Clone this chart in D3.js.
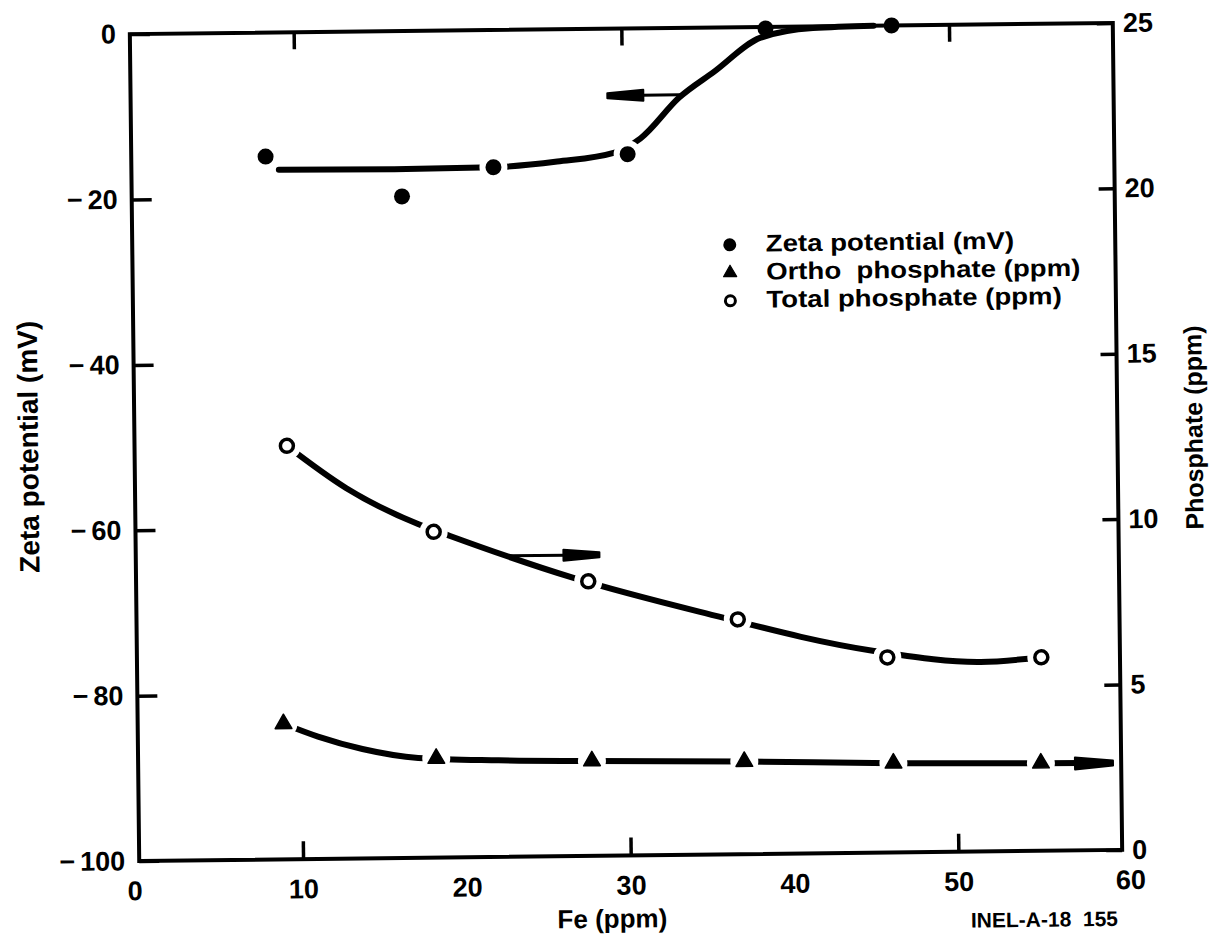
<!DOCTYPE html>
<html>
<head>
<meta charset="utf-8">
<script src="https://cdn.jsdelivr.net/npm/d3@7"></script>
<style>
  html, body { margin: 0; padding: 0; background: #fff; }
  svg { display: block; }
  text { font-family: "Liberation Sans", Arial, Helvetica, sans-serif; font-weight: bold; fill: #000; }
</style>
</head>
<body>
<svg id="chart" width="1215" height="941"></svg>
<script>
// ---- measured values ----
// Zeta potential (left axis, mV)
const zetaFe = [8.2, 16.5, 22.1, 30.3, 38.8, 46.5];
const zetaMv = [-15.0, -20.0, -16.6, -15.2, -0.2, 0.0];
// Ortho phosphate (right axis, ppm)
const orthoFe = [8.9, 18.2, 27.7, 37.0, 46.1, 55.1];
const orthoPpm = [4.1, 3.0, 2.87, 2.8, 2.7, 2.65];
// Total phosphate (right axis, ppm)
const totalFe = [9.3, 18.2, 27.6, 36.7, 45.8, 55.2];
const totalPpm = [12.5, 9.85, 8.3, 7.1, 5.9, 5.85];

// hand-fitted trend curves
const zetaFitFe = [9.0, 16.0, 22.1, 26.0, 29.5, 31.1, 33.5, 35.6, 38.5, 41.7, 45.4];
const zetaFitMv = [-16.6, -16.7, -16.6, -16.0, -15.0, -13.3, -8.4, -5.4, -1.3, -0.2, 0.0];
const totalFitFe = [9.3, 12.9, 17.25, 19.2, 26.7, 34.4, 45.0, 51.5, 55.2];
const totalFitPpm = [12.5, 11.2, 10.09, 9.72, 8.41, 7.34, 6.1, 5.73, 5.85];
const orthoFitFe = [8.9, 11.0, 13.7, 17.1, 22.0, 27.7, 37.0, 46.1, 55.1, 57.6];
const orthoFitPpm = [4.1, 3.7, 3.31, 3.02, 2.92, 2.87, 2.8, 2.7, 2.65, 2.64];

// arrows telling which axis each curve belongs to: [fromFe, toFe, level]
const zetaArrow = [33.5, 29.1, -8.1];
const totalArrow = [22.8, 28.3, 9.1];
const orthoArrow = [57.6, 59.5, 2.63];

// axes
const xTicks = [0, 10, 20, 30, 40, 50, 60];
const xTickLabels = ["0", "10", "20", "30", "40", "50", "60"];
const xMarks = [10, 30, 50];
const leftTicks = [-100, -80, -60, -40, -20, 0];
const leftTickLabels = ["\u2212100", "\u221280", "\u221260", "\u221240", "\u221220", "0"];
const rightTicks = [0, 5, 10, 15, 20, 25];
const rightTickLabels = ["0", "5", "10", "15", "20", "25"];

const legendLabels = ["Zeta potential (mV)", "Ortho  phosphate (ppm)", "Total phosphate (ppm)"];

// ---- layout ----
const L = 134.5, R = 1117.5, T = 28.5, B = 855.5;
const svg = d3.select("#chart");
svg.append("rect").attr("width", 1215).attr("height", 941).attr("fill", "#fff");

// the whole sheet sits very slightly tilted
const g = svg.append("g").attr("transform", "rotate(-0.65,626,442)");

const x = d3.scaleLinear().domain([0, 60]).range([L, R]);
const yL = d3.scaleLinear().domain([-100, 0]).range([B, T]);
const yR = d3.scaleLinear().domain([0, 25]).range([B, T]);

const FS = 27;

function styleAxis(sel) {
  sel.select(".domain").remove();
  sel.selectAll(".tick line").attr("stroke", "#000").attr("stroke-width", 3.5);
  sel.selectAll(".tick text")
    .attr("font-size", FS)
    .attr("font-family", "'Liberation Sans', Arial, sans-serif")
    .attr("font-weight", "bold");
  sel.attr("font-family", null).attr("font-size", null);
}

// bottom: labels at every 10, tick marks at 10/30/50
const axB = g.append("g").attr("transform", `translate(0,${B})`)
  .call(d3.axisBottom(x).tickValues(xTicks)
    .tickFormat((d, i) => xTickLabels[i])
    .tickSize(0).tickPadding(20));
styleAxis(axB);
axB.selectAll(".tick text").attr("dx", d => d === 0 ? -5 : d === 60 ? 8 : 0);
const axBm = g.append("g").attr("transform", `translate(0,${B})`)
  .call(d3.axisBottom(x).tickValues(xMarks).tickFormat("").tickSizeInner(-18).tickSizeOuter(0));
styleAxis(axBm);

// top (marks only)
const axT = g.append("g").attr("transform", `translate(0,${T})`)
  .call(d3.axisTop(x).tickValues(xMarks).tickFormat("")
    .tickSizeInner(-17).tickSizeOuter(0));
styleAxis(axT);

// left
const axL = g.append("g").attr("transform", `translate(${L},0)`)
  .call(d3.axisLeft(yL).tickValues(leftTicks)
    .tickFormat((d, i) => leftTickLabels[i])
    .tickSizeInner(-20).tickSizeOuter(0).tickPadding(14));
styleAxis(axL);
axL.selectAll(".tick text").each(function (d, i) {
  const s = leftTickLabels[i];
  if (s.startsWith("\u2212")) {
    const t = d3.select(this).text(null);
    t.append("tspan").text("\u2212");
    t.append("tspan").attr("dx", 5).text(s.slice(1));
  }
});

// right
const axR = g.append("g").attr("transform", `translate(${R},0)`)
  .call(d3.axisRight(yR).tickValues(rightTicks)
    .tickFormat((d, i) => rightTickLabels[i])
    .tickSizeInner(-16).tickSizeOuter(0).tickPadding(10));
styleAxis(axR);

// frame
g.append("rect").attr("x", L).attr("y", T).attr("width", R - L).attr("height", B - T)
  .attr("fill", "none").attr("stroke", "#000").attr("stroke-width", 4);

// axis titles
g.append("text").attr("transform", `translate(${L - 106},${(T + B) / 2 - 2}) rotate(-90)`)
  .attr("text-anchor", "middle").attr("dominant-baseline", "central")
  .attr("font-size", 28).text("Zeta potential (mV)");
g.append("text").attr("transform", `translate(${R + 76},${(T + B) / 2 - 8}) rotate(-90)`)
  .attr("text-anchor", "middle").attr("dominant-baseline", "central")
  .attr("font-size", 25).text("Phosphate (ppm)");
g.append("text").attr("x", (L + R) / 2 - 19).attr("y", B + 72)
  .attr("text-anchor", "middle").attr("font-size", 26).text("Fe (ppm)");
g.append("text").attr("x", R - 5).attr("y", B + 76)
  .attr("text-anchor", "end").attr("font-size", 21)
  .style("white-space", "pre").text("INEL-A-18  155");

// ---- curves, broken around their markers ----
const defs = svg.append("defs");
const GAP = 14;
function gapMask(id, pts) {
  const m = defs.append("mask").attr("id", id)
    .attr("maskUnits", "userSpaceOnUse")
    .attr("x", -100).attr("y", -100).attr("width", 1500).attr("height", 1200);
  m.append("rect").attr("x", -100).attr("y", -100).attr("width", 1500).attr("height", 1200).attr("fill", "#fff");
  m.selectAll("circle").data(pts).join("circle")
    .attr("cx", d => d[0]).attr("cy", d => d[1]).attr("r", GAP).attr("fill", "#000");
  return `url(#${id})`;
}

const zetaPts = zetaFe.map((f, i) => [f, zetaMv[i]]);
const orthoPts = orthoFe.map((f, i) => [f, orthoPpm[i]]);
const totalPts = totalFe.map((f, i) => [f, totalPpm[i]]);

const lineL = d3.line().x(d => x(d[0])).y(d => yL(d[1])).curve(d3.curveMonotoneX);
const lineR = d3.line().x(d => x(d[0])).y(d => yR(d[1])).curve(d3.curveMonotoneX);

// the zeta curve runs beneath the 38.8 ppm point without a break
const zetaGapPts = zetaPts.filter((d, i) => i !== 4).map(d => [x(d[0]), yL(d[1])]);
g.append("path")
  .attr("d", lineL(zetaFitFe.map((f, i) => [f, zetaFitMv[i]])))
  .attr("fill", "none").attr("stroke", "#000").attr("stroke-width", 6).attr("stroke-linecap", "round")
  .attr("mask", gapMask("gapZeta", zetaGapPts));

g.append("path")
  .attr("d", lineR(totalFitFe.map((f, i) => [f, totalFitPpm[i]])))
  .attr("fill", "none").attr("stroke", "#000").attr("stroke-width", 6).attr("stroke-linecap", "round")
  .attr("mask", gapMask("gapTotal", totalPts.map(d => [x(d[0]), yR(d[1])])));

g.append("path")
  .attr("d", lineR(orthoFitFe.map((f, i) => [f, orthoFitPpm[i]])))
  .attr("fill", "none").attr("stroke", "#000").attr("stroke-width", 6).attr("stroke-linecap", "round")
  .attr("mask", gapMask("gapOrtho", orthoPts.map(d => [x(d[0]), yR(d[1])])));

// ---- arrows ----
function arrowHead(x0, x1, y, len, wBase, wTip) {
  const dir = Math.sign(x1 - x0);
  const bx = x1 - dir * len;
  return `M${bx},${y - wBase}L${x1},${y - wTip}L${x1},${y + wTip}L${bx},${y + wBase}Z`;
}
function drawArrow(a, yScale, shaftW, len, wBase) {
  const x0 = x(a[0]), x1 = x(a[1]), y = yScale(a[2]);
  const dir = Math.sign(x1 - x0);
  g.append("line").attr("x1", x0).attr("y1", y).attr("x2", x1 - dir * (len - 2)).attr("y2", y)
    .attr("stroke", "#000").attr("stroke-width", shaftW).attr("stroke-linecap", "round");
  g.append("path").attr("d", arrowHead(x0, x1, y, len, wBase, 2.5))
    .attr("fill", "#000").attr("stroke", "#000").attr("stroke-width", 2).attr("stroke-linejoin", "round");
}
drawArrow(zetaArrow, yL, 3, 36, 5.5);
drawArrow(totalArrow, yR, 3, 36, 5.5);
drawArrow(orthoArrow, yR, 6, 38, 6);

// ---- markers ----
g.selectAll("circle.zeta").data(zetaPts).join("circle").attr("class", "zeta")
  .attr("cx", d => x(d[0])).attr("cy", d => yL(d[1])).attr("r", 8).attr("fill", "#000");

const tri = d3.symbol(d3.symbolTriangle, 120);
g.selectAll("path.ortho").data(orthoPts).join("path").attr("class", "ortho")
  .attr("d", tri).attr("transform", d => `translate(${x(d[0])},${yR(d[1])})`)
  .attr("fill", "#000").attr("stroke", "#000").attr("stroke-width", 1.5).attr("stroke-linejoin", "round");

g.selectAll("circle.total").data(totalPts).join("circle").attr("class", "total")
  .attr("cx", d => x(d[0])).attr("cy", d => yR(d[1])).attr("r", 6.5)
  .attr("fill", "#fff").attr("stroke", "#000").attr("stroke-width", 3.5);

// ---- legend ----
const leg = g.append("g").attr("transform", "translate(732,0)");
const rowsY = [253, 281, 309];
leg.append("circle").attr("cx", 0).attr("cy", rowsY[0] - 7).attr("r", 6.5).attr("fill", "#000");
leg.append("path").attr("d", d3.symbol(d3.symbolTriangle, 75)())
  .attr("transform", `translate(0,${rowsY[1] - 7})`).attr("fill", "#000")
  .attr("stroke", "#000").attr("stroke-width", 1.2).attr("stroke-linejoin", "round");
leg.append("circle").attr("cx", 0).attr("cy", rowsY[2] - 7).attr("r", 5)
  .attr("fill", "#fff").attr("stroke", "#000").attr("stroke-width", 3);
leg.selectAll("text").data(legendLabels).join("text")
  .attr("transform", (d, i) => `translate(36,${rowsY[i]}) scale(1.15,1)`)
  .attr("font-size", 24).style("white-space", "pre").text(d => d);
</script>
</body>
</html>
